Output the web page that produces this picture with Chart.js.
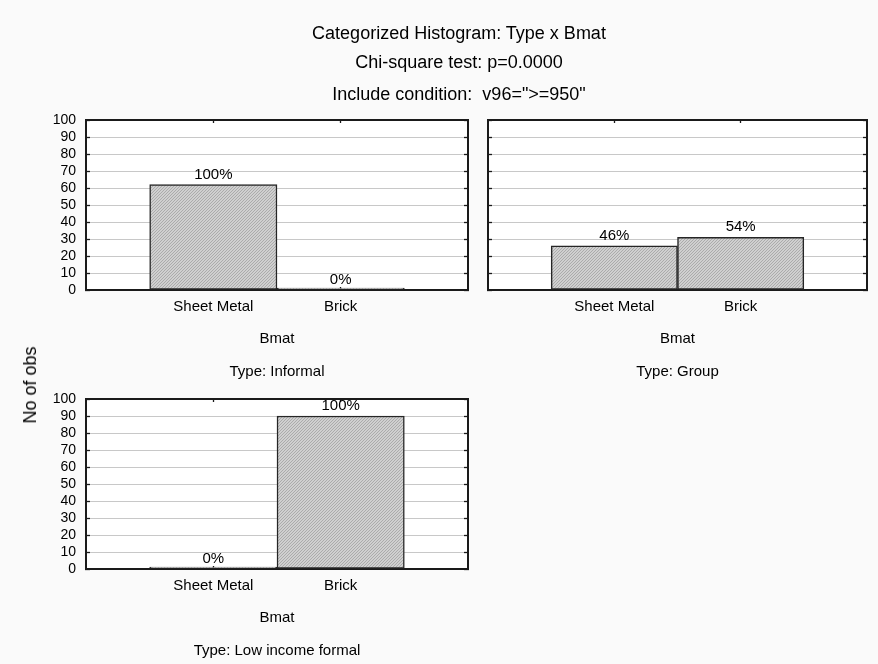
<!DOCTYPE html>
<html>
<head>
<meta charset="utf-8">
<title>Categorized Histogram: Type x Bmat</title>
<script src="https://cdn.jsdelivr.net/npm/chart.js@4.4.1/dist/chart.umd.min.js"></script>
<style>
  html, body { margin: 0; padding: 0; background: #fafafa; }
  #page { position: relative; width: 878px; height: 664px; overflow: hidden;
          font-family: 'Liberation Sans', Arial, sans-serif; color: #000; }
  #page canvas { position: absolute; left: 0; top: 0; }
  .head { position: absolute; left: 159px; width: 600px; text-align: center;
          font-size: 18px; line-height: 20px; white-space: pre; }
  .ylab { position: absolute; left: 30px; top: 385px; font-size: 18px; line-height: 20px;
          white-space: nowrap; transform: translate(-50%, -50%) rotate(-90deg); }
</style>
</head>
<body>
<div id="page">
  <canvas id="informal" width="878" height="664"></canvas>
  <canvas id="group" width="878" height="664"></canvas>
  <canvas id="lowIncome" width="878" height="664"></canvas>
  <div class="head" style="top:23px">Categorized Histogram: Type x Bmat</div>
  <div class="head" style="top:52px">Chi-square test: p=0.0000</div>
  <div class="head" style="top:84px">Include condition:  v96="&gt;=950"</div>
  <div class="ylab">No of obs</div>
</div>
<script>
// Building material categories (x axis) and counts per housing type
const categories = ['Sheet Metal', 'Brick'];
const informalCounts = [62, 0];
const groupCounts = [26, 31];
const lowIncomeFormalCounts = [0, 90];
const typeLabels = ['Type: Informal', 'Type: Group', 'Type: Low income formal'];
const xAxisTitle = 'Bmat';
const yMin = 0, yMax = 100, yStep = 10;

const FONT = "'Liberation Sans', Arial, sans-serif";
const INK = '#000000';
const LINE = '#1a1a1a';
const PAGE_W = 878, PAGE_H = 664;

// fine diagonal hatch used for the bar fill
function hatchPattern(ctx) {
  const c = document.createElement('canvas');
  c.width = 3; c.height = 3;
  const g = c.getContext('2d');
  g.fillStyle = '#d0d0d0';
  g.fillRect(0, 0, 3, 3);
  g.fillStyle = '#ababab';
  for (let i = 0; i < 3; i++) g.fillRect(i, 2 - i, 1, 1);
  return ctx.createPattern(c, 'repeat');
}

// white plot area on the grey page
const plotBackground = {
  id: 'plotBackground',
  beforeDraw(chart) {
    const { ctx, chartArea: a } = chart;
    ctx.save();
    ctx.fillStyle = '#ffffff';
    ctx.fillRect(a.left, a.top, a.right - a.left, a.bottom - a.top);
    ctx.restore();
  }
};

// share of each bar within its panel, printed above the bar
const percentLabels = {
  id: 'percentLabels',
  afterDatasetsDraw(chart) {
    const { ctx } = chart;
    const vals = chart.data.datasets[0].data.map(d => d.y);
    const total = vals.reduce((a, b) => a + b, 0);
    const meta = chart.getDatasetMeta(0);
    ctx.save();
    ctx.font = '15px ' + FONT;
    ctx.fillStyle = INK;
    ctx.textAlign = 'center';
    ctx.textBaseline = 'middle';
    meta.data.forEach((bar, i) => {
      const pct = total ? Math.round(vals[i] / total * 100) : 0;
      const top = chart.scales.y.getPixelForValue(vals[i]);
      ctx.fillText(pct + '%', bar.x, top - 10);
    });
    ctx.restore();
  }
};

const innerTickColor = ctx =>
  (ctx.tick && ctx.tick.value >= 0 && ctx.tick.value < categories.length) ? LINE : 'rgba(0,0,0,0)';

function makePanel(id, counts, typeLabel, box, showYLabels) {
  const Wy = showYLabels ? 40 : 0;   // width reserved for the value labels
  const Hx = 58;                     // category labels + axis title
  const Ht = 33;                     // panel caption
  const canvas = document.getElementById(id);
  const hatch = hatchPattern(canvas.getContext('2d'));
  const xCommon = {
    type: 'linear', min: -1, max: categories.length, offset: false,
    grid: { offset: false, drawOnChartArea: false, tickLength: -3, tickWidth: 1.3, tickColor: innerTickColor },
    border: { color: LINE, width: 2 }
  };
  const yCommon = { min: yMin, max: yMax, border: { color: LINE, width: 2 } };
  return new Chart(canvas, {
    type: 'bar',
    data: {
      datasets: [{
        data: counts.map((v, i) => ({ x: i, y: v })),
        backgroundColor: hatch,
        borderColor: '#262626',
        borderWidth: 1.5,
        borderSkipped: false,
        barPercentage: 1,
        categoryPercentage: 1,
        minBarLength: 2
      }]
    },
    options: {
      responsive: false,
      animation: false,
      events: [],
      layout: {
        padding: {
          left: box.left - Wy,
          right: PAGE_W - box.right,
          top: box.top,
          bottom: PAGE_H - box.bottom - Hx - Ht
        }
      },
      plugins: {
        legend: { display: false },
        tooltip: { enabled: false },
        title: {
          display: true, text: typeLabel, position: 'bottom', fullSize: false,
          padding: { top: 15, bottom: 0 },
          font: { family: FONT, size: 15, weight: 'normal', lineHeight: 1.2 }, color: INK
        }
      },
      scales: {
        x: Object.assign({}, xCommon, {
          position: 'bottom',
          afterFit: s => { s.height = Hx; },
          ticks: {
            stepSize: 1, autoSkip: false, maxRotation: 0, padding: 11,
            font: { family: FONT, size: 15 }, color: INK,
            callback: v => categories[v] !== undefined ? categories[v] : ''
          },
          title: {
            display: true, text: xAxisTitle, padding: 0,
            font: { family: FONT, size: 15, lineHeight: 1.2 }, color: INK
          }
        }),
        x2: Object.assign({}, xCommon, {
          position: 'top',
          afterFit: s => { s.height = 0; },
          ticks: { stepSize: 1, display: false, autoSkip: false }
        }),
        y: Object.assign({}, yCommon, {
          position: 'left',
          afterFit: s => { s.width = Wy; },
          ticks: { stepSize: yStep, autoSkip: false, display: showYLabels, padding: 14,
                   font: { family: FONT, size: 14 }, color: INK },
          grid: { color: '#c8c8c8', lineWidth: 1, tickLength: -4, tickWidth: 1.3, tickColor: LINE }
        }),
        y2: Object.assign({}, yCommon, {
          position: 'right',
          afterFit: s => { s.width = 0; },
          ticks: { stepSize: yStep, autoSkip: false, display: false },
          grid: { drawOnChartArea: false, tickLength: -4, tickWidth: 1.3, tickColor: LINE }
        })
      }
    },
    plugins: [plotBackground, percentLabels]
  });
}

makePanel('informal', informalCounts, typeLabels[0], { left: 86, right: 468, top: 120, bottom: 290 }, true);
makePanel('group', groupCounts, typeLabels[1], { left: 488, right: 869, top: 120, bottom: 290 }, false);
makePanel('lowIncome', lowIncomeFormalCounts, typeLabels[2], { left: 86, right: 468, top: 399, bottom: 569 }, true);
</script>
</body>
</html>
